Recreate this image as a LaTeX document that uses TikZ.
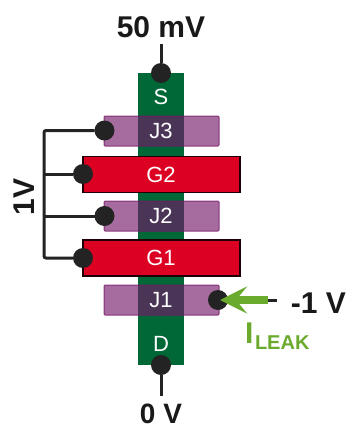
\documentclass[tikz,border=0pt]{standalone}
\usepackage{fontspec}
\setmainfont{Liberation Sans}
\usetikzlibrary{arrows.meta}
\definecolor{chan}{RGB}{0,104,55}
\definecolor{gate}{RGB}{220,0,35}
\definecolor{junc}{RGB}{118,24,105}
\definecolor{wirec}{RGB}{35,35,35}
\definecolor{leak}{RGB}{106,171,46}
\tikzset{
  inner sep=0pt, outer sep=0pt,
  channel/.style={fill=chan,minimum width=46pt,minimum height=292pt},
  gatebar/.style={fill=gate,draw=black!85!gate,line width=1.2pt,minimum width=157pt,minimum height=36pt},
  juncbar/.style={fill=junc,fill opacity=.635,draw=junc,draw opacity=.8,line width=1pt,rounded corners=1pt,minimum width=115pt,minimum height=30pt},
  barlabel/.style={text=white,font=\fontsize{22}{22}\selectfont},
  dot/.style={circle,fill=wirec,minimum size=20pt},
  wire/.style={draw=wirec,line width=3pt},
  voltage/.style={text=black!90,font=\fontsize{30}{30}\selectfont\bfseries}
}
\begin{document}
\begin{tikzpicture}[x=1pt,y=-1pt]
\useasboundingbox (0,0) rectangle (352,426);
\fill[white] (0,0) rectangle (352,426);
\node[channel] (ch) at (161,219) {};
\node[juncbar] (j3) at (161.5,131) {};
\node[juncbar] (j2) at (161.5,216) {};
\node[juncbar] (j1) at (161.5,300) {};
\node[gatebar] (g2) at (161.5,174.5) {};
\node[gatebar] (g1) at (161.5,258) {};
\node[barlabel] (ls) at (161,97) {S};
\node[barlabel] (lj3) at (161,131) {J3};
\node[barlabel] (lg2) at (161,174.5) {G2};
\node[barlabel] (lj2) at (161,216) {J2};
\node[barlabel] (lg1) at (161,258) {G1};
\node[barlabel] (lj1) at (161,300) {J1};
\node[barlabel] (ld) at (161,344) {D};
\node[voltage] (vs) at (161,27) {50 mV};
\node[voltage,anchor=base,font=\fontsize{28}{28}\selectfont\bfseries] (vd) at (161,423) {0 V};
\node[voltage] (vj) at (318.5,303) {-1 V};
\node[voltage,rotate=90] (vg) at (24,197) {1V};
\coordinate (ts) at (161,44);
\coordinate (td) at (161,396);
\coordinate (tj) at (277,300);
\coordinate (bustop) at (44,130.5);
\coordinate (busg2) at (44,174);
\coordinate (busj2) at (44,216);
\coordinate (busg1) at (44,258);
\coordinate (tip) at (220,300);
\coordinate (tail) at (268,300);
\node[dot] (ds) at (161,73) {};
\node[dot] (dj3) at (104.5,130.5) {};
\node[dot] (dg2) at (83,174) {};
\node[dot] (dj2) at (104.5,216) {};
\node[dot] (dg1) at (83,258) {};
\node[dot] (dj1) at (218,300) {};
\node[dot] (dd) at (161,365) {};
\draw[wire] (ts) -- (ds);
\draw[wire] (dd) -- (td);
\draw[wire,rounded corners=2pt] (dj3) -- (bustop) -- (busg1) -- (dg1);
\draw[wire] (busg2) -- (dg2);
\draw[wire] (busj2) -- (dj2);
\draw[wire] (tail) -- (tj);
\draw[leak,line width=8pt,-{Stealth[length=27pt,width=27pt,inset=11pt]}] (tail) -- (tip);
\node[anchor=base west,text=leak,font=\fontsize{30}{30}\selectfont\bfseries] (il) at (245,343) {I};
\node[anchor=base west,text=leak,font=\fontsize{20}{20}\selectfont\bfseries] (il2) at (255,349) {LEAK};
\end{tikzpicture}
\end{document}
